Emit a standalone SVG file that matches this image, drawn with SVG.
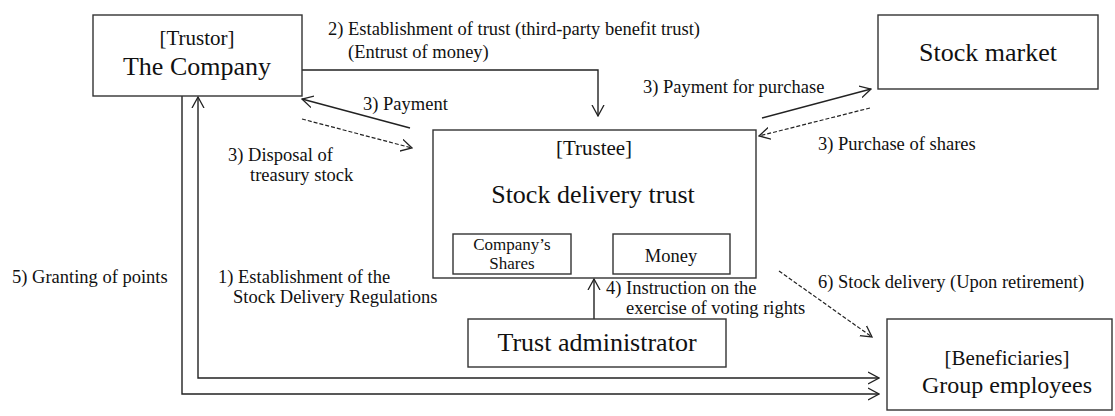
<svg xmlns="http://www.w3.org/2000/svg" width="1115" height="416" viewBox="0 0 1115 416">
<style>
text{font-family:"Liberation Serif","Times New Roman",serif;fill:#111}
.box{fill:#fff;stroke:#333;stroke-width:1.4}
.big{font-size:26px}
.mid{font-size:21px}
.lbl{font-size:18.5px}
.sm{font-size:17px}
.c{text-anchor:middle}
.ln{fill:none;stroke:#222;stroke-width:1.4}
.dash{fill:none;stroke:#222;stroke-width:1.2;stroke-dasharray:4 2}
</style>
<defs>
<marker id="ah" viewBox="0 0 12 14" markerWidth="12" markerHeight="14" refX="11" refY="7" orient="auto-start-reverse" markerUnits="userSpaceOnUse">
<path d="M0,1 L11,7 L0,13" fill="none" stroke="#222" stroke-width="1.3"/>
</marker>
</defs>
<rect width="1115" height="416" fill="#fff"/>

<g id="connectors">
<path class="ln" d="M302,70 H598 V116" marker-end="url(#ah)"/>
<path class="ln" d="M410,128 L302,99" marker-end="url(#ah)"/>
<path class="dash" d="M302,119 L412,148" marker-end="url(#ah)"/>
<path class="ln" d="M762,118 L871,89" marker-end="url(#ah)"/>
<path class="dash" d="M870,108 L759,136" marker-end="url(#ah)"/>
<path class="ln" d="M594,319 V279" marker-end="url(#ah)"/>
<path class="dash" d="M779,271 L872,337" marker-end="url(#ah)"/>
<path class="ln" d="M182,96 V394 H879" marker-end="url(#ah)"/>
<path class="ln" d="M198,97 V378 H879" marker-start="url(#ah)" marker-end="url(#ah)"/>
<text class="lbl" x="328" y="35">2) Establishment of trust (third-party benefit trust)</text>
<text class="lbl" x="348" y="58">(Entrust of money)</text>
<text class="lbl" x="363" y="110">3) Payment</text>
<text class="lbl" x="228" y="161">3) Disposal of</text>
<text class="lbl" x="250" y="181">treasury stock</text>
<text class="lbl" x="643" y="93">3) Payment for purchase</text>
<text class="lbl" x="818" y="150">3) Purchase of shares</text>
<text class="lbl" x="12" y="283">5) Granting of points</text>
<text class="lbl" x="218" y="283">1) Establishment of the</text>
<text class="lbl" x="233" y="303">Stock Delivery Regulations</text>
<text class="lbl" x="606" y="294">4) Instruction on the</text>
<text class="lbl" x="626" y="314">exercise of voting rights</text>
<text class="lbl" x="818" y="288">6) Stock delivery (Upon retirement)</text>
</g>

<g id="trustor">
<rect class="box" x="93" y="15" width="209" height="81"/>
<text class="mid c" x="197" y="45">[Trustor]</text>
<text class="big c" x="197" y="75">The Company</text>
</g>

<g id="stock-market">
<rect class="box" x="878" y="15" width="220" height="74"/>
<text class="big c" x="988" y="61">Stock market</text>
</g>

<g id="trustee">
<rect class="box" x="433" y="130" width="323" height="148"/>
<text class="mid c" x="594" y="155">[Trustee]</text>
<text class="big c" x="593" y="203">Stock delivery trust</text>
</g>

<g id="company-shares">
<rect class="box" x="453" y="234" width="118" height="40"/>
<text class="sm c" x="512" y="250">Company’s</text>
<text class="sm c" x="512" y="269">Shares</text>
</g>

<g id="money">
<rect class="box" x="613" y="234" width="117" height="40"/>
<text class="lbl c" x="671" y="262">Money</text>
</g>

<g id="trust-administrator">
<rect class="box" x="468" y="319" width="258" height="48"/>
<text class="big c" x="597" y="351">Trust administrator</text>
</g>

<g id="beneficiaries">
<rect class="box" x="887" y="319" width="225" height="91"/>
<text class="mid c" x="1007" y="365">[Beneficiaries]</text>
<text class="c" x="1007" y="393" font-size="24">Group employees</text>
</g>
</svg>
